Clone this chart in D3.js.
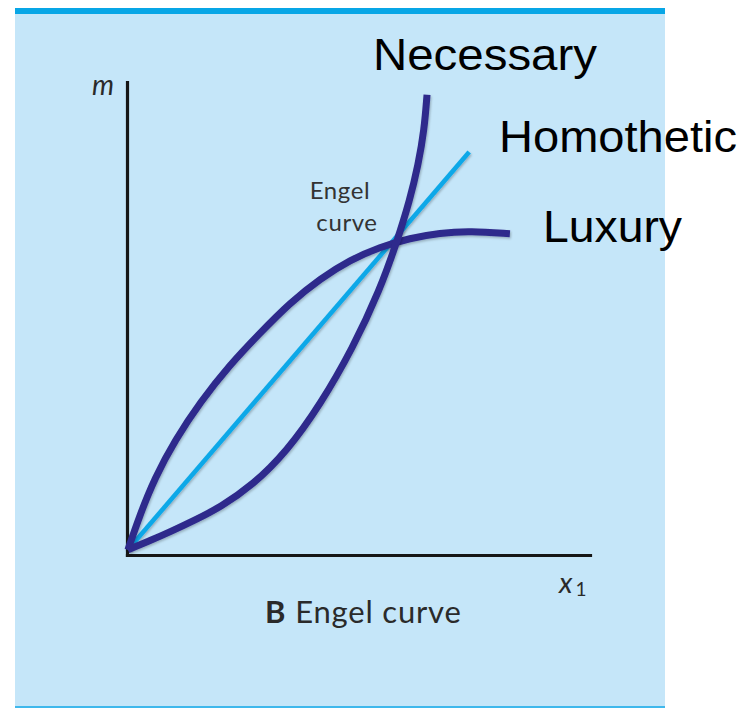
<!DOCTYPE html>
<html>
<head>
<meta charset="utf-8">
<script src="https://cdn.jsdelivr.net/npm/d3@7"></script>
<style>
  body { margin: 0; background: #fff; }
  svg { display: block; }
</style>
</head>
<body>
<svg id="main-svg" width="742" height="709"></svg>
<script>
// curve points in axis units (x1 along the bottom, m up the side)
const luxuryX = [0.02, 0.28, 0.60, 1.04, 1.58, 2.22, 2.87, 3.52, 4.17, 4.82, 5.46, 6.11, 6.76, 7.41, 8.27];
const luxuryY = [0.11, 0.85, 1.63, 2.43, 3.23, 4.02, 4.69, 5.33, 5.84, 6.24, 6.51, 6.70, 6.81, 6.85, 6.79];

const necessaryX = [0.02, 0.49, 0.93, 1.47, 2.01, 2.72, 3.46, 4.17, 4.88, 5.46, 5.83, 6.11, 6.29, 6.42, 6.48];
const necessaryY = [0.11, 0.30, 0.49, 0.74, 1.01, 1.48, 2.20, 3.17, 4.38, 5.60, 6.62, 7.51, 8.25, 8.99, 9.73];

const homotheticX = [0.02, 7.39];
const homotheticY = [0.11, 8.52];

const labels = ["Necessary", "Homothetic", "Luxury"];

const svg = d3.select("#main-svg");

// light blue panel with the darker rule on top
svg.append("rect")
    .attr("x", 15).attr("y", 8)
    .attr("width", 650).attr("height", 699)
    .attr("fill", "#c5e6f9");
svg.append("rect")
    .attr("x", 15).attr("y", 8)
    .attr("width", 650).attr("height", 6)
    .attr("fill", "#08a6e6");
svg.append("rect")
    .attr("x", 15).attr("y", 706)
    .attr("width", 650).attr("height", 2)
    .attr("fill", "#3fb8ec");

const x = d3.scaleLinear().domain([0, 10]).range([127, 590]);
const y = d3.scaleLinear().domain([0, 10]).range([555, 82]);

// soft shadow under the curves
const defs = svg.append("defs");
defs.append("filter")
    .attr("id", "shadow")
    .attr("x", "-10%").attr("y", "-10%")
    .attr("width", "120%").attr("height", "120%")
  .append("feDropShadow")
    .attr("dx", 1).attr("dy", 1.5)
    .attr("stdDeviation", 1.2)
    .attr("flood-color", "#000")
    .attr("flood-opacity", 0.25);

// axes, no ticks
const xAxis = svg.append("g")
    .attr("transform", `translate(0,${y(0)})`)
    .call(d3.axisBottom(x).tickValues([]).tickSizeOuter(0));
const yAxis = svg.append("g")
    .attr("transform", `translate(${x(0)},0)`)
    .call(d3.axisLeft(y).tickValues([]).tickSizeOuter(0));
[xAxis, yAxis].forEach(a => a.select(".domain")
    .attr("stroke", "#161616")
    .attr("stroke-width", 3.2)
    .attr("stroke-linecap", "square"));

const line = d3.line()
    .x(d => x(d[0]))
    .y(d => y(d[1]))
    .curve(d3.curveBasis);

const zip = (a, b) => a.map((v, i) => [v, b[i]]);

// homothetic straight line
svg.append("path")
    .datum(zip(homotheticX, homotheticY))
    .attr("d", line)
    .attr("fill", "none")
    .attr("stroke", "#0aa8e8")
    .attr("stroke-width", 4.5)
    .attr("filter", "url(#shadow)");

// the two bent curves
[zip(luxuryX, luxuryY), zip(necessaryX, necessaryY)].forEach(pts => {
    svg.append("path")
        .datum(pts)
        .attr("d", line)
        .attr("fill", "none")
        .attr("stroke", "#2e2b8c")
        .attr("stroke-width", 7)
        .attr("stroke-linecap", "butt")
        .attr("stroke-linejoin", "round")
        .attr("filter", "url(#shadow)");
});

// axis letters
const bookFont = "Lato, 'Open Sans', sans-serif";
svg.append("text")
    .attr("x", 92).attr("y", 95)
    .attr("font-family", bookFont)
    .attr("font-style", "italic")
    .attr("font-size", 28)
    .attr("fill", "#2a2a2a")
    .text("m");

const x1 = svg.append("text")
    .attr("x", 559).attr("y", 593)
    .attr("font-family", bookFont)
    .attr("font-style", "italic")
    .attr("font-size", 29)
    .attr("fill", "#2a2a2a");
x1.append("tspan").text("x");
x1.append("tspan")
    .attr("dx", 3).attr("dy", 3)
    .attr("font-style", "normal")
    .attr("font-size", 19)
    .text("1");

// "Engel curve" note by the crossing
svg.append("text")
    .attr("x", 340).attr("y", 199)
    .attr("text-anchor", "middle")
    .attr("font-family", bookFont)
    .attr("font-size", 24)
    .attr("letter-spacing", 0.6)
    .attr("fill", "#333")
    .text("Engel");
svg.append("text")
    .attr("x", 347).attr("y", 231)
    .attr("text-anchor", "middle")
    .attr("font-family", bookFont)
    .attr("font-size", 24)
    .attr("letter-spacing", 0.6)
    .attr("fill", "#333")
    .text("curve");

// panel caption
const cap = svg.append("text")
    .attr("x", 265).attr("y", 623)
    .attr("font-family", bookFont)
    .attr("font-size", 31)
    .attr("letter-spacing", 0.8)
    .attr("fill", "#2a2a2a");
cap.append("tspan").attr("font-weight", "bold").text("B");
cap.append("tspan").attr("dx", 9).text("Engel curve");

// big black labels
const labelPos = [[373, 70, 224], [499, 152, 238], [543, 242, 139]];
labels.forEach((t, i) => {
    svg.append("text")
        .attr("x", labelPos[i][0])
        .attr("y", labelPos[i][1])
        .attr("font-family", "'Liberation Sans', Arial, sans-serif")
        .attr("font-size", 44)
        .attr("textLength", labelPos[i][2])
        .attr("lengthAdjust", "spacingAndGlyphs")
        .attr("fill", "#000")
        .text(t);
});
</script>
</body>
</html>
